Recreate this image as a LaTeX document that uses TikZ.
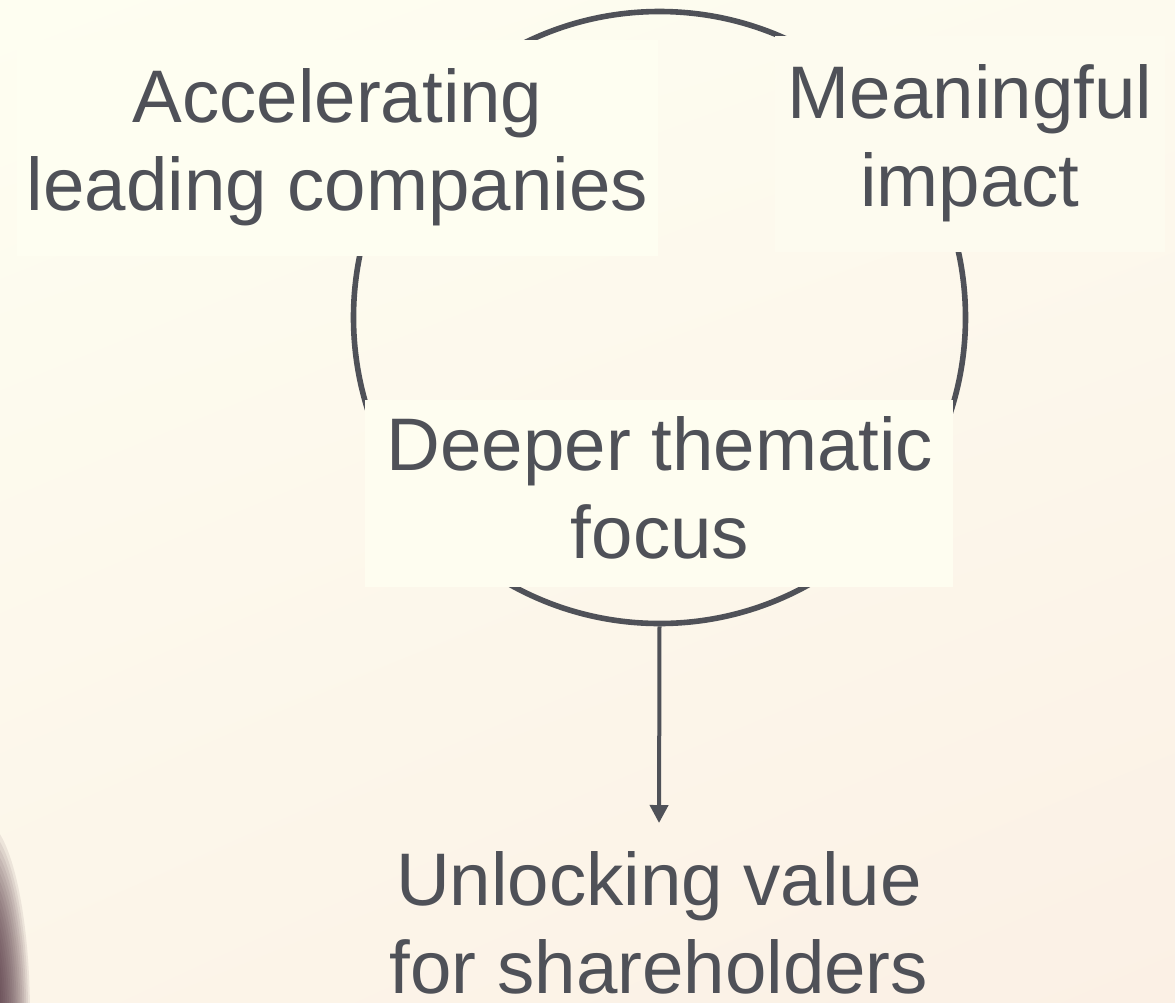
\documentclass[tikz,border=0pt]{standalone}
\usepackage{fontspec}
\setmainfont{Liberation Sans}
\usetikzlibrary{arrows.meta,shadings}
\definecolor{ink}{HTML}{4F5158}
\definecolor{bgA}{HTML}{FEFEF1}
\definecolor{bgB}{HTML}{FDFAEE}
\definecolor{bgC}{HTML}{FCF5E9}
\definecolor{bgD}{HTML}{FBF0E5}
\definecolor{boxfill}{HTML}{FEFEF1}
\definecolor{boxfillR}{HTML}{FDFBEF}
\definecolor{boxfillD}{HTML}{FEFDF0}
\definecolor{blob}{HTML}{4A2C38}
\begin{document}
\begin{tikzpicture}[x=0.5pt,y=-0.5pt,
  lbl/.style={text=ink, inner sep=0pt, anchor=base, font=\fontsize{37.25}{44}\selectfont},
  mask/.style={fill=#1, draw=none, inner sep=0pt, anchor=north west},
  ring/.style={circle, draw=ink, line width=2.8pt, minimum size=306pt, inner sep=0pt},
  flow/.style={draw=ink, line width=2pt, -{Triangle[width=9pt,length=9pt]}}]
\useasboundingbox (0,0) rectangle (1175,1003);
\shade[upper left=bgA, upper right=bgB, lower left=bgC, lower right=bgD] (0,0) rectangle (1175,1003);
\foreach \i in {0,...,19}
  \fill[blob, opacity=0.085] (-18,1015) ellipse [x radius={48-1.9*\i}, y radius={195-7*\i}];
% ring
\node[ring] (circ) at (659.5,317.5) {};
% masking text boxes
\node[mask=boxfill, minimum width=320.5pt, minimum height=108pt] (boxL) at (17,40) {};
\node[mask=boxfillR, minimum width=195pt, minimum height=108pt] (boxR) at (775,36) {};
\node[mask=boxfillD, minimum width=294pt, minimum height=93.5pt] (boxD) at (365,400) {};
% labels
\node[lbl] (accel) at (337.5,122) {\begin{tabular}[t]{@{}c@{}}Accelerating\\leading companies\end{tabular}};
\node[lbl] (mean) at (970,118) {\begin{tabular}[t]{@{}c@{}}Meaningful\\impact\end{tabular}};
\node[lbl] (deep) at (660,470) {\begin{tabular}[t]{@{}c@{}}Deeper thematic\\focus\end{tabular}};
\node[lbl] (unlock) at (659,905) {\begin{tabular}[t]{@{}c@{}}Unlocking value\\for shareholders\end{tabular}};
% arrow
\draw[flow, shorten >=10pt] (circ.south) -- (unlock.north);
\end{tikzpicture}
\end{document}
